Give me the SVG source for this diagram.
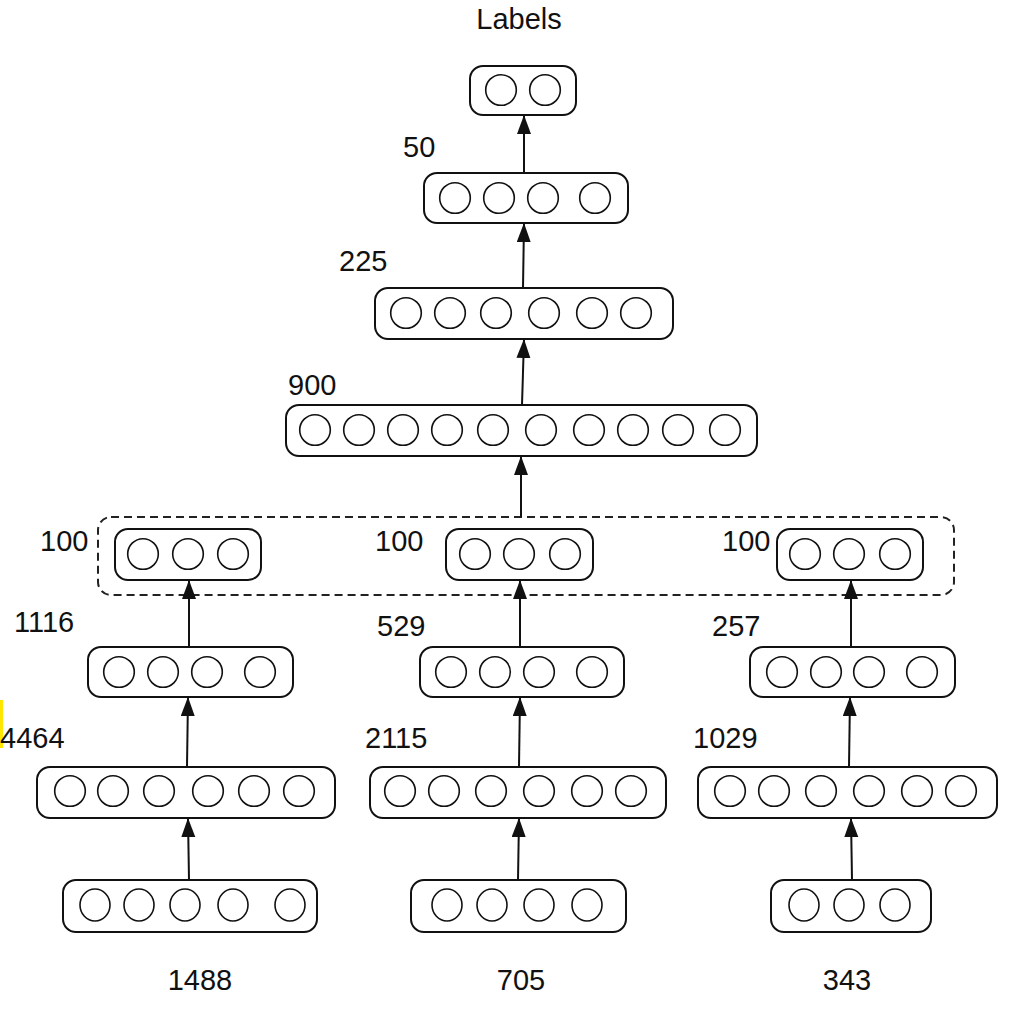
<svg xmlns="http://www.w3.org/2000/svg" width="1012" height="1014" viewBox="0 0 1012 1014">
<defs>
<style>
.box{fill:#fff;stroke:#111;stroke-width:2}
.n{fill:#fff;stroke:#111;stroke-width:1.6}
.lbl{font-family:"Liberation Sans",Arial,sans-serif;font-size:29px;fill:#111}
.edge{stroke:#111;stroke-width:2;fill:none;marker-end:url(#ah)}
.dash{fill:none;stroke:#222;stroke-width:2;stroke-dasharray:8 5}
</style>
<marker id="ah" markerUnits="userSpaceOnUse" markerWidth="20" markerHeight="16" refX="19" refY="7" orient="auto">
<path d="M0,0 L19,7 L0,14 Z" fill="#111"/>
</marker>
</defs>
<rect width="1012" height="1014" fill="#fff"/>
<rect x="0" y="700" width="3" height="48" fill="#ffe600"/>

<g id="group-box">
<rect class="dash" x="98" y="517" width="856" height="78" rx="13"/>
</g>

<g id="connectors">
<line class="edge" x1="524" y1="173" x2="524" y2="115"/>
<line class="edge" x1="523" y1="288" x2="524" y2="223"/>
<line class="edge" x1="522" y1="405" x2="524" y2="339"/>
<line class="edge" x1="521" y1="517" x2="521" y2="456"/>
<line class="edge" x1="189" y1="647" x2="189" y2="580"/>
<line class="edge" x1="520" y1="647" x2="520" y2="580"/>
<line class="edge" x1="851" y1="647" x2="851" y2="580"/>
<line class="edge" x1="187" y1="767" x2="188" y2="697"/>
<line class="edge" x1="519" y1="767" x2="520" y2="697"/>
<line class="edge" x1="849" y1="767" x2="850" y2="697"/>
<line class="edge" x1="189" y1="880" x2="188" y2="818"/>
<line class="edge" x1="518" y1="880" x2="519" y2="818"/>
<line class="edge" x1="852" y1="880" x2="851" y2="818"/>
</g>

<text class="lbl" x="519" y="29" text-anchor="middle">Labels</text>

<g id="node-labels">
<rect class="box" x="470" y="66" width="106" height="49" rx="13"/>
<circle class="n" cx="501" cy="90" r="15.3"/>
<circle class="n" cx="545" cy="90" r="15.3"/>
</g>

<g id="node-50">
<text class="lbl" x="403" y="157">50</text>
<rect class="box" x="424" y="173" width="204" height="50" rx="13"/>
<circle class="n" cx="455" cy="198" r="15.3"/>
<circle class="n" cx="499" cy="198" r="15.3"/>
<circle class="n" cx="543" cy="198" r="15.3"/>
<circle class="n" cx="595" cy="198" r="15.3"/>
</g>

<g id="node-225">
<text class="lbl" x="339" y="271">225</text>
<rect class="box" x="375" y="288" width="298" height="51" rx="13"/>
<circle class="n" cx="406" cy="313" r="15.3"/>
<circle class="n" cx="450" cy="313" r="15.3"/>
<circle class="n" cx="496" cy="313" r="15.3"/>
<circle class="n" cx="544" cy="313" r="15.3"/>
<circle class="n" cx="592" cy="313" r="15.3"/>
<circle class="n" cx="636" cy="313" r="15.3"/>
</g>

<g id="node-900">
<text class="lbl" x="288" y="395">900</text>
<rect class="box" x="286" y="405" width="471" height="51" rx="13"/>
<circle class="n" cx="315" cy="430" r="15.3"/>
<circle class="n" cx="359" cy="430" r="15.3"/>
<circle class="n" cx="403" cy="430" r="15.3"/>
<circle class="n" cx="447" cy="430" r="15.3"/>
<circle class="n" cx="493" cy="430" r="15.3"/>
<circle class="n" cx="541" cy="430" r="15.3"/>
<circle class="n" cx="589" cy="430" r="15.3"/>
<circle class="n" cx="633" cy="430" r="15.3"/>
<circle class="n" cx="678" cy="430" r="15.3"/>
<circle class="n" cx="725" cy="430" r="15.3"/>
</g>

<g id="node-100-a">
<text class="lbl" x="40" y="551">100</text>
<rect class="box" x="115" y="529" width="146" height="51" rx="13"/>
<circle class="n" cx="143" cy="554" r="15.3"/>
<circle class="n" cx="188" cy="554" r="15.3"/>
<circle class="n" cx="233" cy="554" r="15.3"/>
</g>

<g id="node-100-b">
<text class="lbl" x="375" y="551">100</text>
<rect class="box" x="446" y="529" width="147" height="51" rx="13"/>
<circle class="n" cx="475" cy="554" r="15.3"/>
<circle class="n" cx="519" cy="554" r="15.3"/>
<circle class="n" cx="565" cy="554" r="15.3"/>
</g>

<g id="node-100-c">
<text class="lbl" x="722" y="551">100</text>
<rect class="box" x="777" y="529" width="146" height="51" rx="13"/>
<circle class="n" cx="805" cy="554" r="15.3"/>
<circle class="n" cx="849" cy="554" r="15.3"/>
<circle class="n" cx="895" cy="554" r="15.3"/>
</g>

<g id="node-1116">
<text class="lbl" x="14" y="632">1116</text>
<rect class="box" x="88" y="647" width="205" height="50" rx="13"/>
<circle class="n" cx="119" cy="672" r="15.3"/>
<circle class="n" cx="163" cy="672" r="15.3"/>
<circle class="n" cx="207" cy="672" r="15.3"/>
<circle class="n" cx="260" cy="672" r="15.3"/>
</g>

<g id="node-529">
<text class="lbl" x="377" y="636">529</text>
<rect class="box" x="420" y="647" width="204" height="50" rx="13"/>
<circle class="n" cx="451" cy="672" r="15.3"/>
<circle class="n" cx="495" cy="672" r="15.3"/>
<circle class="n" cx="539" cy="672" r="15.3"/>
<circle class="n" cx="592" cy="672" r="15.3"/>
</g>

<g id="node-257">
<text class="lbl" x="712" y="636">257</text>
<rect class="box" x="750" y="647" width="205" height="50" rx="13"/>
<circle class="n" cx="782" cy="672" r="15.3"/>
<circle class="n" cx="826" cy="672" r="15.3"/>
<circle class="n" cx="869" cy="672" r="15.3"/>
<circle class="n" cx="922" cy="672" r="15.3"/>
</g>

<g id="node-4464">
<text class="lbl" x="0" y="748">4464</text>
<rect class="box" x="37" y="767" width="298" height="51" rx="13"/>
<circle class="n" cx="70" cy="791" r="15.3"/>
<circle class="n" cx="113" cy="791" r="15.3"/>
<circle class="n" cx="159" cy="791" r="15.3"/>
<circle class="n" cx="208" cy="791" r="15.3"/>
<circle class="n" cx="254" cy="791" r="15.3"/>
<circle class="n" cx="299" cy="791" r="15.3"/>
</g>

<g id="node-2115">
<text class="lbl" x="365" y="748">2115</text>
<rect class="box" x="370" y="767" width="296" height="51" rx="13"/>
<circle class="n" cx="400" cy="791" r="15.3"/>
<circle class="n" cx="444" cy="791" r="15.3"/>
<circle class="n" cx="491" cy="791" r="15.3"/>
<circle class="n" cx="539" cy="791" r="15.3"/>
<circle class="n" cx="587" cy="791" r="15.3"/>
<circle class="n" cx="631" cy="791" r="15.3"/>
</g>

<g id="node-1029">
<text class="lbl" x="693" y="748">1029</text>
<rect class="box" x="698" y="767" width="299" height="51" rx="13"/>
<circle class="n" cx="730" cy="791" r="15.3"/>
<circle class="n" cx="774" cy="791" r="15.3"/>
<circle class="n" cx="821" cy="791" r="15.3"/>
<circle class="n" cx="869" cy="791" r="15.3"/>
<circle class="n" cx="917" cy="791" r="15.3"/>
<circle class="n" cx="961" cy="791" r="15.3"/>
</g>

<g id="node-1488">
<rect class="box" x="63" y="880" width="254" height="52" rx="13"/>
<ellipse class="n" cx="95" cy="905" rx="15" ry="16"/>
<ellipse class="n" cx="139" cy="905" rx="15" ry="16"/>
<ellipse class="n" cx="185" cy="905" rx="15" ry="16"/>
<ellipse class="n" cx="233" cy="905" rx="15" ry="16"/>
<ellipse class="n" cx="290" cy="905" rx="15" ry="16"/>
<text class="lbl" x="200" y="990" text-anchor="middle">1488</text>
</g>

<g id="node-705">
<rect class="box" x="411" y="880" width="215" height="52" rx="13"/>
<ellipse class="n" cx="447" cy="905" rx="15" ry="16"/>
<ellipse class="n" cx="492" cy="905" rx="15" ry="16"/>
<ellipse class="n" cx="539" cy="905" rx="15" ry="16"/>
<ellipse class="n" cx="587" cy="905" rx="15" ry="16"/>
<text class="lbl" x="521" y="990" text-anchor="middle">705</text>
</g>

<g id="node-343">
<rect class="box" x="771" y="880" width="160" height="52" rx="13"/>
<ellipse class="n" cx="804" cy="905" rx="15" ry="16"/>
<ellipse class="n" cx="849" cy="905" rx="15" ry="16"/>
<ellipse class="n" cx="895" cy="905" rx="15" ry="16"/>
<text class="lbl" x="847" y="990" text-anchor="middle">343</text>
</g>
</svg>
